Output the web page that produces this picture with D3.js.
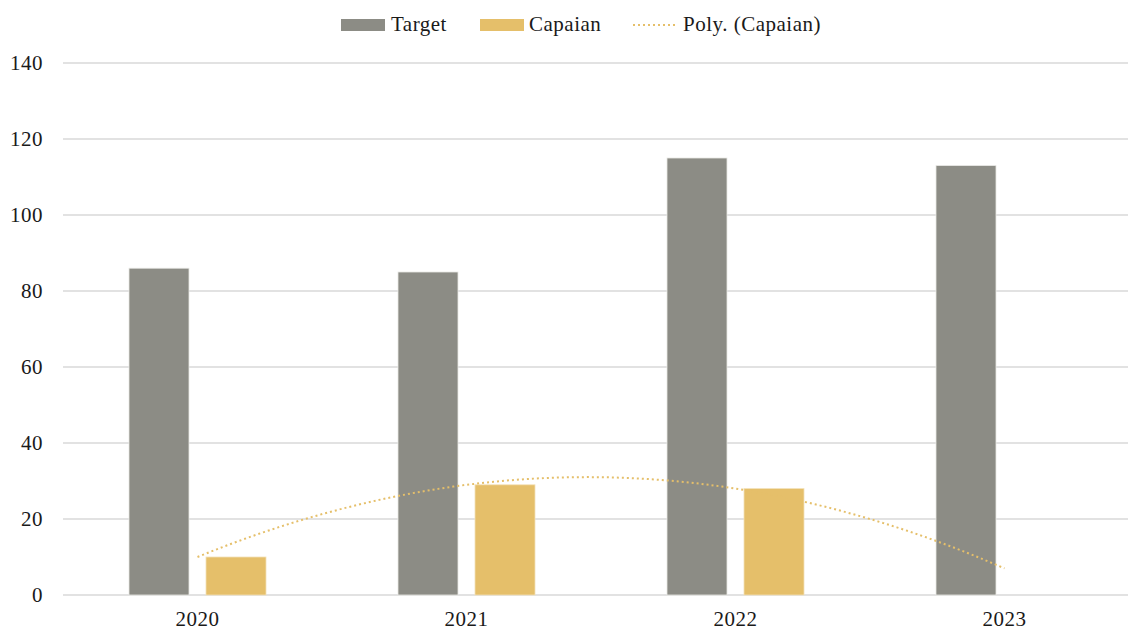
<!DOCTYPE html>
<html>
<head>
<meta charset="utf-8">
<script src="https://cdn.jsdelivr.net/npm/d3@7"></script>
<style>
  body { margin: 0; background: #fff; }
  svg { display: block; }
  svg text { font-family: "Palatino Linotype", "Book Antiqua", Palatino, "Liberation Serif", serif; letter-spacing: 0.5px; }
</style>
</head>
<body>
<svg id="chart" width="1128" height="631"></svg>
<script>
const years = ['2020', '2021', '2022', '2023'];
const target = [86, 85, 115, 113];
const capaian = [10, 29, 28, null];
const yTicks = [0, 20, 40, 60, 80, 100, 120, 140];

const colTarget = '#8c8c85';
const colCapaian = '#e5bf6a';

let svg = d3.select('#chart');
let W = 1128, H = 631;
let plotLeft = 63, plotTop = 63, plotBottom = 595;
let step = 269;
let fs = 21;

let x = d3.scaleBand().domain(years).range([plotLeft, plotLeft + step * years.length]).paddingInner(0).paddingOuter(0);
let y = d3.scaleLinear().domain([0, 140]).range([plotBottom, plotTop]);
let barW = 60, gap = 17;

// gridlines
svg.append('g').selectAll('line').data(yTicks).join('line')
    .attr('x1', plotLeft).attr('x2', W)
    .attr('y1', d => y(d)).attr('y2', d => y(d))
    .attr('stroke', '#d9d9d9').attr('stroke-width', 1.3);

// y labels
let yaxis = d3.axisLeft(y).tickValues(yTicks).tickSize(0).tickPadding(0);
let gy = svg.append('g').attr('transform', 'translate(43,0)').call(yaxis)
    .attr('font-family', null).attr('font-size', null);
gy.select('.domain').remove();
gy.selectAll('text').attr('font-size', fs).attr('fill', '#1a1a1a');

// x labels
let xaxis = d3.axisBottom(x).tickSize(0).tickPadding(0);
let gx = svg.append('g').attr('transform', 'translate(0,' + plotBottom + ')').call(xaxis)
    .attr('font-family', null).attr('font-size', null);
gx.select('.domain').remove();
gx.selectAll('text').attr('font-size', fs).attr('fill', '#1a1a1a')
    .attr('dy', null).attr('y', 31);

let center = d => x(d) + x.bandwidth() / 2;

// bars
svg.append('g').selectAll('rect').data(years.map((yr, i) => ({yr, v: target[i]}))).join('rect')
    .attr('x', d => center(d.yr) - gap / 2 - barW)
    .attr('width', barW)
    .attr('y', d => y(d.v))
    .attr('height', d => y(0) - y(d.v))
    .attr('fill', colTarget)
    .attr('stroke', '#e8e8e4').attr('stroke-width', 0.8);

svg.append('g').selectAll('rect').data(years.map((yr, i) => ({yr, v: capaian[i]})).filter(d => d.v != null)).join('rect')
    .attr('x', d => center(d.yr) + gap / 2)
    .attr('width', barW)
    .attr('y', d => y(d.v))
    .attr('height', d => y(0) - y(d.v))
    .attr('fill', colCapaian)
    .attr('stroke', '#f3e2b8').attr('stroke-width', 0.8);

// polynomial (order 2) trendline, least squares over the Capaian points
function polyFit2(xs, ys){
    let n = xs.length, S = [0,0,0,0,0], T = [0,0,0];
    for(let i = 0; i < n; i++){
        for(let k = 0; k < 5; k++) S[k] += Math.pow(xs[i], k);
        for(let k = 0; k < 3; k++) T[k] += ys[i] * Math.pow(xs[i], k);
    }
    let M = [[S[0],S[1],S[2],T[0]],[S[1],S[2],S[3],T[1]],[S[2],S[3],S[4],T[2]]];
    for(let c = 0; c < 3; c++){
        let p = c;
        for(let r = c + 1; r < 3; r++) if(Math.abs(M[r][c]) > Math.abs(M[p][c])) p = r;
        [M[c], M[p]] = [M[p], M[c]];
        for(let r = 0; r < 3; r++){
            if(r == c) continue;
            let f = M[r][c] / M[c][c];
            for(let k = c; k < 4; k++) M[r][k] -= f * M[c][k];
        }
    }
    return [M[0][3]/M[0][0], M[1][3]/M[1][1], M[2][3]/M[2][2]];
}
let px = [], py = [];
capaian.forEach((v, i) => { if(v != null){ px.push(i + 1); py.push(v); } });
let coef = polyFit2(px, py);
let trendX = d3.range(1, years.length + 0.001, 0.05);
let xi = d3.scaleLinear().domain([1, years.length]).range([center(years[0]), center(years[years.length - 1])]);
let line = d3.line()
    .x(t => xi(t))
    .y(t => y(coef[0] + coef[1] * t + coef[2] * t * t));
svg.append('path')
    .datum(trendX)
    .attr('d', line)
    .attr('fill', 'none')
    .attr('stroke', colCapaian)
    .attr('stroke-width', 2)
    .attr('stroke-dasharray', '2 3');

// legend
let lg = svg.append('g').attr('font-size', fs).attr('fill', '#1a1a1a');
lg.append('rect').attr('x', 341).attr('y', 19).attr('width', 44).attr('height', 12).attr('fill', colTarget);
lg.append('text').attr('x', 391).attr('y', 31).text('Target');
lg.append('rect').attr('x', 480).attr('y', 19).attr('width', 44).attr('height', 12).attr('fill', colCapaian);
lg.append('text').attr('x', 529).attr('y', 31).text('Capaian');
lg.append('line').attr('x1', 633).attr('x2', 677).attr('y1', 25).attr('y2', 25)
    .attr('stroke', colCapaian).attr('stroke-width', 2).attr('stroke-dasharray', '2 3');
lg.append('text').attr('x', 683).attr('y', 31).text('Poly. (Capaian)');
</script>
</body>
</html>
